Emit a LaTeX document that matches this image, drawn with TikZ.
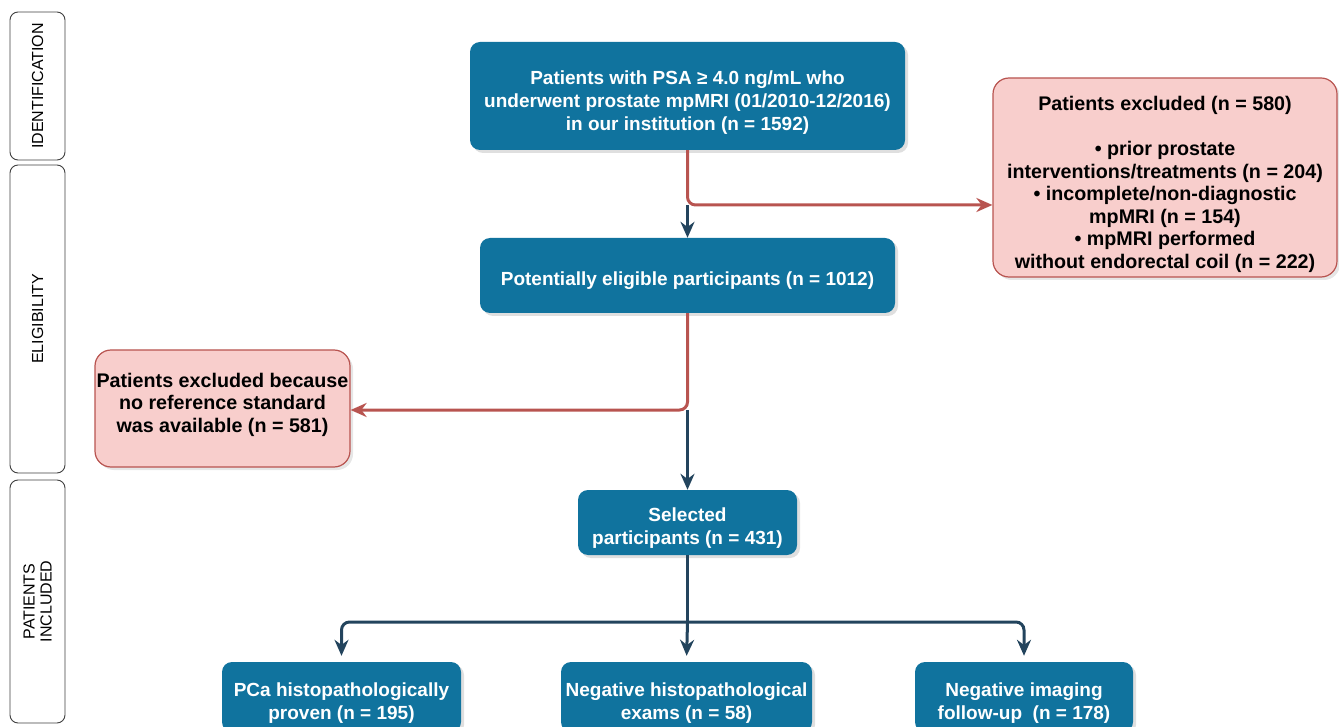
\documentclass[tikz,border=0pt]{standalone}
\usepackage{fontspec}
\setmainfont{Liberation Sans}
\usetikzlibrary{arrows.meta,shadows}

\definecolor{boxblue}{HTML}{10739E}
\definecolor{arrowdark}{HTML}{23445D}
\definecolor{exclfill}{HTML}{F8CECC}
\definecolor{exclline}{HTML}{B85450}

\newcommand\padtop[1]{\rule{0pt}{#1}}

\tikzset{
  stepbox/.style={fill=boxblue, text=white, rounded corners=10pt, align=center,
    inner sep=0pt, font=\bfseries\fontsize{19}{23}\selectfont,
    drop shadow={shadow xshift=3pt, shadow yshift=-3pt, opacity=0.25}},
  exclbox/.style={fill=exclfill, draw=exclline, line width=1.2pt, rounded corners=16pt,
    align=center, inner sep=0pt, font=\bfseries\fontsize{19.7}{22.5}\selectfont,
    drop shadow={shadow xshift=3pt, shadow yshift=-3pt, opacity=0.2}},
  phasebox/.style={draw=black!75, line width=0.9pt, rounded corners=8pt, rotate=90,
    fill=white, align=center, inner sep=0pt, font=\fontsize{16}{17}\selectfont},
  flowarrow/.style={draw=arrowdark, line width=3pt, rounded corners=8pt,
    -{Stealth[length=16pt,width=14pt]}},
  exclarrow/.style={draw=exclline, line width=3pt, rounded corners=8pt,
    -{Stealth[length=16pt,width=14pt]}}
}

\begin{document}
\begin{tikzpicture}[x=1pt, y=-1pt]
\useasboundingbox (0,0) rectangle (1339,727);
\clip (0,0) rectangle (1339,727);

% phases
\node[phasebox, minimum width=148pt, minimum height=55pt] (ident) at (37.5,86) {IDENTIFICATION};
\node[phasebox, minimum width=308pt, minimum height=55pt] (elig) at (37.5,319) {ELIGIBILITY};
\node[phasebox, minimum width=243pt, minimum height=55pt] (incl) at (37.5,601.5) {PATIENTS\\INCLUDED};

% flow boxes
\node[stepbox, minimum width=435pt, minimum height=108pt] (mri) at (687.5,96)
  {\padtop{27pt}Patients with PSA ≥ 4.0 ng/mL who\\underwent prostate mpMRI (01/2010-12/2016)\\in our institution (n = 1592)};
\node[stepbox, minimum width=415pt, minimum height=75pt] (potential) at (687.5,275.5)
  {\padtop{25pt}Potentially eligible participants (n = 1012)};
\node[stepbox, minimum width=219pt, minimum height=65pt] (selected) at (687.5,522.5)
  {\padtop{25pt}Selected\\participants (n = 431)};
\node[stepbox, minimum width=239pt, minimum height=70pt] (pca) at (341.5,697)
  {\padtop{25pt}PCa histopathologically\\proven (n = 195)};
\node[stepbox, minimum width=251pt, minimum height=70pt] (neghisto) at (686.5,697)
  {\padtop{25pt}Negative histopathological\\exams (n = 58)};
\node[stepbox, minimum width=218pt, minimum height=70pt] (negimg) at (1024,697)
  {\padtop{25pt}Negative imaging\\follow-up~ (n = 178)};

% exclusions
\node[exclbox, minimum width=344pt, minimum height=199pt] (excl1) at (1165,177.5)
  {\padtop{28pt}Patients excluded (n = 580)\\[22.5pt]• prior prostate\\interventions/treatments (n = 204)\\• incomplete/non-diagnostic\\mpMRI (n = 154)\\• mpMRI performed\\without endorectal coil (n = 222)};
\node[exclbox, minimum width=255pt, minimum height=117pt] (excl2) at (222.5,408.5)
  {\padtop{25pt}Patients excluded because\\no reference standard\\was available (n = 581)\\[0pt]};

% connectors
\coordinate (split1) at (687.5,205);
\coordinate (split2) at (687.5,410);
\coordinate (fork) at (687.5,622);
\draw[exclarrow] (mri.south) |- (split1 -| excl1.west);
\draw[flowarrow] (split1) -- (potential.north);
\draw[exclarrow] (potential.south) |- (split2 -| excl2.east);
\draw[flowarrow] (split2) -- (selected.north);
\draw[draw=arrowdark, line width=3pt] (selected.south) -- (fork);
\draw[flowarrow, shorten >=6pt] (fork) -| (pca.north);
\draw[flowarrow, shorten >=6pt] (fork) -- (neghisto.north);
\draw[flowarrow, shorten >=6pt] (fork) -| (negimg.north);
\end{tikzpicture}
\end{document}
